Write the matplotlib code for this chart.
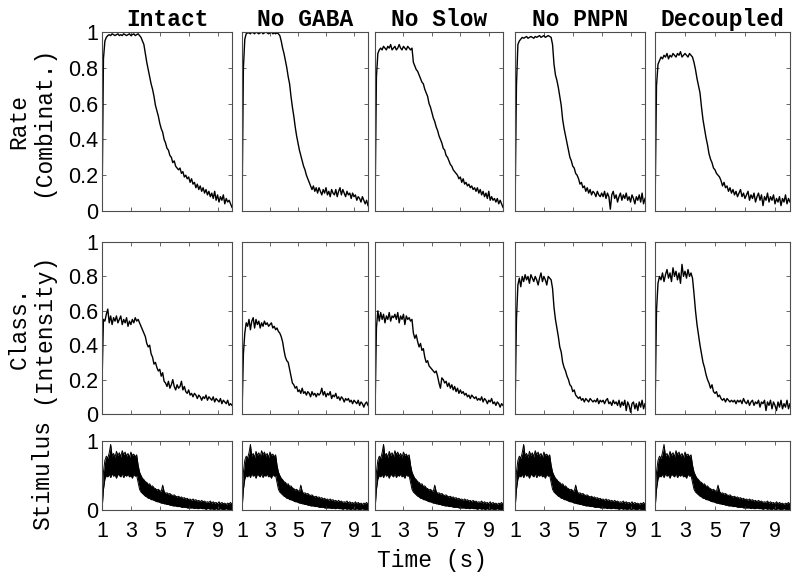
import matplotlib
matplotlib.use("Agg")
import matplotlib.pyplot as plt
import numpy as np

MONO = ["Liberation Mono", "DejaVu Sans Mono"]
SANS = ["Liberation Sans", "DejaVu Sans"]

titles = ["Intact", "No GABA", "No Slow", "No PNPN", "Decoupled"]
row_labels = ["Rate\n(Combinat.)", "Class.\n(Intensity)", "Stimulus"]
x_ticks = [1, 3, 5, 7, 9]
y_ticks = [0, 0.2, 0.4, 0.6, 0.8, 1]
y_ticklabels = ["0", "0.2", "0.4", "0.6", "0.8", "1"]

# readout, sampled every 0.1 s from 1 s to 10 s
rate_intact = [0.00, 0.85, 0.95, 0.97, 0.98,
               0.985, 0.98, 0.99, 0.985, 0.98, 0.985, 0.99, 0.98, 0.985, 0.98, 0.99,
               0.985, 0.98, 0.985, 0.99, 0.98, 0.985, 0.99, 0.98, 0.985, 0.99, 0.98,
               0.97, 0.95, 0.93, 0.88, 0.83, 0.79, 0.75, 0.71, 0.68, 0.64,
               0.59, 0.56, 0.53, 0.49, 0.46, 0.44, 0.40, 0.38, 0.35, 0.34,
               0.31, 0.30, 0.27, 0.28, 0.25, 0.24, 0.23, 0.24, 0.21, 0.22,
               0.19, 0.20, 0.18, 0.19, 0.16, 0.18, 0.15, 0.16, 0.13, 0.15,
               0.12, 0.14, 0.11, 0.13, 0.10, 0.12, 0.09, 0.11, 0.08, 0.10,
               0.07, 0.11, 0.06, 0.09, 0.05, 0.08, 0.06, 0.09, 0.04, 0.07,
               0.05, 0.06, 0.04, 0.02]
rate_nogaba = [0.00, 0.80, 0.96, 0.99, 0.995,
               0.995, 0.99, 1.0, 0.995, 0.99, 1.0, 0.995, 0.99, 0.995, 1.0, 0.99,
               0.995, 1.0, 0.995, 0.99, 0.995, 1.0, 0.99, 0.995, 0.99, 0.995, 0.99,
               0.98, 0.95, 0.91, 0.88, 0.84, 0.80, 0.75, 0.71, 0.64, 0.58,
               0.53, 0.47, 0.42, 0.38, 0.34, 0.31, 0.28, 0.25, 0.23, 0.20,
               0.18, 0.16, 0.14, 0.12, 0.14, 0.11, 0.13, 0.10, 0.13, 0.11,
               0.09, 0.12, 0.10, 0.13, 0.09, 0.11, 0.08, 0.12, 0.10, 0.09,
               0.12, 0.08, 0.11, 0.13, 0.09, 0.12, 0.10, 0.08, 0.11, 0.09,
               0.10, 0.07, 0.10, 0.08, 0.09, 0.06, 0.08, 0.07, 0.05, 0.08,
               0.06, 0.04, 0.06, 0.03]
rate_noslow = [0.00, 0.75, 0.88, 0.90, 0.91,
               0.90, 0.92, 0.91, 0.90, 0.92, 0.91, 0.93, 0.90, 0.91, 0.92, 0.90,
               0.91, 0.93, 0.91, 0.90, 0.92, 0.91, 0.90, 0.92, 0.91, 0.90, 0.91,
               0.83, 0.81, 0.79, 0.78, 0.76, 0.74, 0.72, 0.71, 0.68, 0.66,
               0.64, 0.60, 0.58, 0.55, 0.52, 0.50, 0.47, 0.45, 0.42, 0.40,
               0.38, 0.35, 0.34, 0.31, 0.30, 0.28, 0.26, 0.25, 0.23, 0.22,
               0.21, 0.20, 0.18, 0.19, 0.16, 0.18, 0.15, 0.16, 0.14, 0.15,
               0.13, 0.14, 0.12, 0.13, 0.11, 0.13, 0.10, 0.12, 0.09, 0.11,
               0.08, 0.10, 0.07, 0.11, 0.06, 0.08, 0.06, 0.07, 0.05, 0.07,
               0.04, 0.06, 0.04, 0.02]
rate_nopnpn = [0.00, 0.70, 0.93, 0.95, 0.96,
               0.97, 0.965, 0.97, 0.975, 0.965, 0.97, 0.975, 0.97, 0.965, 0.975, 0.97,
               0.975, 0.98, 0.97, 0.975, 0.98, 0.97, 0.975, 0.98, 0.975, 0.97,
               0.93, 0.82, 0.76, 0.73, 0.69, 0.64, 0.59, 0.51, 0.46, 0.42,
               0.38, 0.34, 0.30, 0.28, 0.25, 0.24, 0.21, 0.20, 0.18, 0.15,
               0.16, 0.13, 0.14, 0.11, 0.13, 0.10, 0.12, 0.09, 0.11, 0.10,
               0.08, 0.11, 0.09, 0.08, 0.10, 0.08, 0.11, 0.07, 0.10, 0.08,
               0.01, 0.09, 0.11, 0.07, 0.09, 0.05, 0.08, 0.10, 0.06, 0.09,
               0.07, 0.10, 0.06, 0.08, 0.05, 0.09, 0.07, 0.04, 0.08, 0.06,
               0.09, 0.05, 0.10, 0.04, 0.07]
rate_decoupled = [0.00, 0.70, 0.82, 0.84, 0.86,
                  0.85, 0.87, 0.86, 0.88, 0.85, 0.87, 0.86, 0.88, 0.87, 0.86, 0.88,
                  0.87, 0.89, 0.86, 0.87, 0.88, 0.87, 0.86, 0.88, 0.87, 0.86,
                  0.83, 0.79, 0.74, 0.70, 0.66, 0.58, 0.51, 0.46, 0.41, 0.37,
                  0.32, 0.29, 0.27, 0.24, 0.23, 0.21, 0.20, 0.19, 0.17, 0.14,
                  0.16, 0.13, 0.14, 0.11, 0.13, 0.10, 0.12, 0.09, 0.11, 0.08,
                  0.10, 0.12, 0.08, 0.10, 0.07, 0.09, 0.11, 0.06, 0.09, 0.07,
                  0.10, 0.05, 0.08, 0.10, 0.06, 0.09, 0.03, 0.08, 0.06, 0.10,
                  0.05, 0.08, 0.06, 0.09, 0.04, 0.07, 0.05, 0.08, 0.03, 0.07,
                  0.05, 0.09, 0.04, 0.07, 0.05]

class_intact = [0.18, 0.55, 0.54, 0.58, 0.61, 0.53, 0.57, 0.52, 0.56, 0.54,
                0.57, 0.53, 0.55, 0.57, 0.52, 0.55, 0.53, 0.56, 0.51, 0.54,
                0.52, 0.55, 0.53, 0.56, 0.54, 0.55, 0.53, 0.51, 0.49, 0.47,
                0.45, 0.41, 0.39, 0.40, 0.35, 0.33, 0.29, 0.30, 0.27, 0.25,
                0.26, 0.22, 0.24, 0.19, 0.18, 0.16, 0.19, 0.15, 0.17, 0.20,
                0.16, 0.14, 0.17, 0.15, 0.16, 0.19, 0.14, 0.16, 0.13, 0.12,
                0.14, 0.11, 0.12, 0.10, 0.12, 0.11, 0.09, 0.11, 0.10, 0.08,
                0.10, 0.09, 0.11, 0.08, 0.10, 0.09, 0.08, 0.10, 0.07, 0.09,
                0.08, 0.07, 0.09, 0.06, 0.08, 0.07, 0.06, 0.08, 0.05, 0.06,
                0.05]
class_nogaba = [0.00, 0.35, 0.47, 0.53, 0.51, 0.55, 0.49, 0.54, 0.56, 0.50,
                0.55, 0.52, 0.54, 0.50, 0.53, 0.51, 0.54, 0.52, 0.53, 0.51,
                0.52, 0.53, 0.50, 0.51, 0.49, 0.50, 0.48, 0.47, 0.45, 0.42,
                0.37, 0.33, 0.31, 0.30, 0.26, 0.22, 0.18, 0.17, 0.15, 0.16,
                0.13, 0.14, 0.12, 0.15, 0.12, 0.13, 0.11, 0.13, 0.12, 0.10,
                0.13, 0.11, 0.12, 0.10, 0.12, 0.11, 0.12, 0.15, 0.11, 0.13,
                0.10, 0.12, 0.11, 0.13, 0.09, 0.11, 0.10, 0.12, 0.09, 0.10,
                0.08, 0.10, 0.09, 0.07, 0.09, 0.08, 0.09, 0.07, 0.08, 0.06,
                0.08, 0.07, 0.06, 0.08, 0.05, 0.07, 0.06, 0.04, 0.06, 0.07,
                0.05]
class_noslow = [0.00, 0.50, 0.60, 0.54, 0.59, 0.55, 0.58, 0.53, 0.57, 0.55,
                0.59, 0.54, 0.57, 0.56, 0.58, 0.55, 0.59, 0.53, 0.57, 0.55,
                0.58, 0.52, 0.57, 0.55, 0.56, 0.54, 0.55, 0.47, 0.44, 0.46,
                0.42, 0.39, 0.41, 0.37, 0.38, 0.33, 0.30, 0.31, 0.28, 0.27,
                0.26, 0.25, 0.24, 0.25, 0.22, 0.18, 0.15, 0.21, 0.20, 0.18,
                0.19, 0.16, 0.18, 0.15, 0.17, 0.14, 0.16, 0.13, 0.15, 0.12,
                0.14, 0.12, 0.13, 0.11, 0.12, 0.10, 0.11, 0.09, 0.11, 0.10,
                0.09, 0.10, 0.08, 0.09, 0.08, 0.10, 0.07, 0.09, 0.08, 0.06,
                0.08, 0.07, 0.09, 0.06, 0.07, 0.05, 0.07, 0.06, 0.04, 0.06,
                0.05]
class_nopnpn = [0.00, 0.55, 0.75, 0.79, 0.74, 0.80, 0.77, 0.81, 0.78, 0.80,
                0.76, 0.81, 0.79, 0.77, 0.80, 0.78, 0.75, 0.79, 0.82, 0.77,
                0.80, 0.78, 0.75, 0.80, 0.79, 0.78, 0.73, 0.62, 0.55, 0.50,
                0.45, 0.39, 0.36, 0.30, 0.27, 0.25, 0.22, 0.20, 0.17, 0.16,
                0.13, 0.14, 0.11, 0.10, 0.09, 0.10, 0.08, 0.09, 0.07, 0.09,
                0.08, 0.07, 0.09, 0.08, 0.07, 0.08, 0.07, 0.09, 0.06, 0.08,
                0.07, 0.08, 0.06, 0.08, 0.09, 0.06, 0.07, 0.05, 0.08, 0.06,
                0.07, 0.05, 0.08, 0.04, 0.07, 0.05, 0.08, 0.02, 0.07, 0.05,
                0.01, 0.06, 0.07, 0.03, 0.06, 0.02, 0.07, 0.04, 0.08, 0.03,
                0.06]
class_decoupled = [0.00, 0.60, 0.76, 0.80, 0.78, 0.82, 0.77, 0.81, 0.84, 0.79,
                   0.82, 0.77, 0.85, 0.80, 0.83, 0.78, 0.82, 0.76, 0.87, 0.80,
                   0.83, 0.79, 0.84, 0.80, 0.82, 0.79, 0.70, 0.60, 0.52, 0.46,
                   0.40, 0.35, 0.30, 0.27, 0.23, 0.20, 0.18, 0.15, 0.17, 0.13,
                   0.12, 0.13, 0.10, 0.11, 0.09, 0.08, 0.09, 0.07, 0.09, 0.08,
                   0.07, 0.08, 0.07, 0.08, 0.06, 0.08, 0.07, 0.08, 0.06, 0.09,
                   0.07, 0.06, 0.08, 0.05, 0.07, 0.08, 0.05, 0.07, 0.06, 0.08,
                   0.04, 0.07, 0.06, 0.08, 0.02, 0.07, 0.05, 0.08, 0.03, 0.07,
                   0.05, 0.02, 0.07, 0.04, 0.08, 0.03, 0.06, 0.04, 0.08, 0.03,
                   0.06]

# stimulus band (upper / lower envelope), every 0.1 s
stim_upper = [0.05, 0.55, 0.72, 0.78, 0.75, 0.83, 0.95, 0.78, 0.82, 0.76,
              0.85, 0.79, 0.83, 0.77, 0.86, 0.80, 0.84, 0.78, 0.82, 0.76,
              0.84, 0.79, 0.81, 0.77, 0.80, 0.65, 0.55, 0.50, 0.46, 0.44,
              0.41, 0.40, 0.37, 0.38, 0.34, 0.35, 0.32, 0.31, 0.29, 0.30,
              0.28, 0.27, 0.36, 0.27, 0.24, 0.25, 0.23, 0.24, 0.22, 0.21,
              0.22, 0.20, 0.19, 0.20, 0.18, 0.19, 0.17, 0.18, 0.16, 0.17,
              0.15, 0.16, 0.14, 0.16, 0.14, 0.15, 0.13, 0.14, 0.12, 0.14,
              0.12, 0.13, 0.11, 0.12, 0.11, 0.13, 0.10, 0.12, 0.10, 0.11,
              0.09, 0.12, 0.09, 0.11, 0.09, 0.10, 0.08, 0.10, 0.09, 0.11,
              0.08]
stim_lower = [0.00, 0.30, 0.45, 0.50, 0.48, 0.52, 0.47, 0.53, 0.49, 0.51,
              0.46, 0.52, 0.50, 0.48, 0.53, 0.47, 0.51, 0.49, 0.52, 0.48,
              0.50, 0.46, 0.52, 0.49, 0.50, 0.40, 0.30, 0.26, 0.24, 0.22,
              0.20, 0.19, 0.17, 0.17, 0.15, 0.15, 0.14, 0.13, 0.12, 0.12,
              0.11, 0.10, 0.10, 0.09, 0.09, 0.08, 0.08, 0.07, 0.07, 0.06,
              0.06, 0.06, 0.05, 0.05, 0.05, 0.04, 0.04, 0.04, 0.04, 0.03,
              0.03, 0.03, 0.03, 0.03, 0.02, 0.03, 0.02, 0.02, 0.03, 0.02,
              0.02, 0.02, 0.01, 0.02, 0.02, 0.01, 0.02, 0.01, 0.01, 0.02,
              0.01, 0.01, 0.02, 0.01, 0.01, 0.01, 0.02, 0.01, 0.01, 0.01,
              0.01]

rates = [rate_intact, rate_nogaba, rate_noslow, rate_nopnpn, rate_decoupled]
classes = [class_intact, class_nogaba, class_noslow, class_nopnpn, class_decoupled]

W, H = 800, 579
col_px = [(102, 232), (242, 368), (375, 503), (515, 645), (655, 790)]
row_px = [(32, 211), (242, 414), (441, 510)]

fig = plt.figure(figsize=(W / 100, H / 100), dpi=100)


def style_axes(ax):
    for s in ax.spines.values():
        s.set_color("0.3")
        s.set_linewidth(0.8)
    ax.tick_params(direction="in", top=True, right=True, length=3, width=0.6,
                   color="0.3", labelsize=15.5, pad=2.5)
    ax.tick_params(axis="x", pad=8)
    for lab in ax.get_xticklabels() + ax.get_yticklabels():
        lab.set_family(SANS)


for r, (top, bot) in enumerate(row_px):
    for c, (left, right) in enumerate(col_px):
        ax = fig.add_axes([left / W, 1 - bot / H, (right - left) / W, (bot - top) / H])
        if r < 2:
            y = rates[c] if r == 0 else classes[c]
            t = np.linspace(1, 10, len(y))
            ax.plot(t, y, color="black", lw=1.0)
            ax.set_ylim(0, 1)
            ax.set_yticks(y_ticks)
            ax.set_yticklabels(y_ticklabels if c == 0 else [])
            ax.set_xticks(x_ticks)
            ax.set_xticklabels([])
        else:
            t = np.linspace(1, 10, len(stim_upper))
            ax.fill_between(t, stim_lower, stim_upper, color="black", lw=0)
            ax.plot(t, stim_upper, color="black", lw=0.7)
            ax.plot(t, stim_lower, color="black", lw=0.7)
            ax.set_ylim(0, 1)
            ax.set_yticks([0, 1])
            ax.set_yticklabels(["0", "1"] if c == 0 else [])
            ax.set_xticks(x_ticks)
            ax.set_xticklabels([str(v) for v in x_ticks])
        ax.set_xlim(1, 10)
        style_axes(ax)
        if r == 0:
            ax.set_title(titles[c], family=MONO, fontweight="bold", fontsize=16.5, pad=4)
        if c == 0:
            ax.set_ylabel(row_labels[r], family=MONO, fontsize=16.5, linespacing=1.05)
            ax.yaxis.set_label_coords(-50 / (right - left) + 0.02, 0.5)

fig.text(432 / W, 1 - 561 / H, "Time (s)", family=MONO, fontsize=16.5,
         ha="center", va="center")

fig.savefig("out.png", dpi=100)
